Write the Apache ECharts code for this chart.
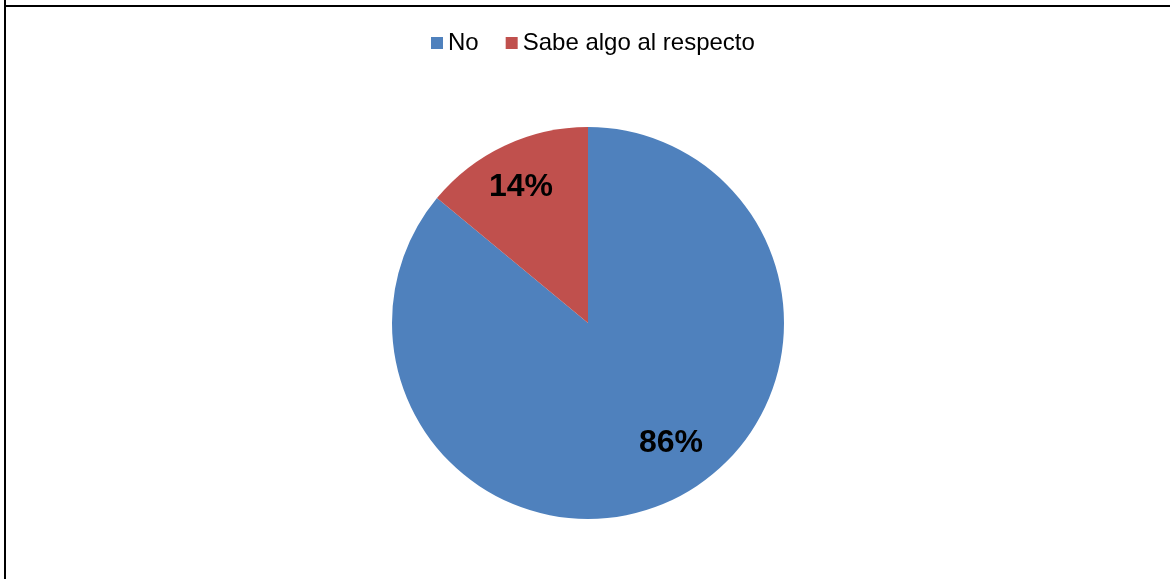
<!DOCTYPE html>
<html>
<head>
<meta charset="utf-8">
<script src="https://cdn.jsdelivr.net/npm/echarts@6/dist/echarts.min.js"></script>
<style>
html,body{margin:0;padding:0;background:#fff;}
#c{width:1170px;height:579px;}
</style>
</head>
<body>
<div id="c"></div>
<script>
const categories = ['No', 'Sabe algo al respecto'];
const values = [86, 14];
const colors = ['#4F81BD', '#C0504D'];
const labelOffsets = [[40, 29], [-24, -44]];

const chart = echarts.init(document.getElementById('c'), null, {renderer: 'canvas'});
chart.setOption({
  animation: false,
  backgroundColor: '#fff',
  graphic: [
    {type: 'line', shape: {x1: 5, y1: 0, x2: 5, y2: 600}, style: {stroke: '#000', lineWidth: 2}},
    {type: 'line', shape: {x1: 4, y1: 6, x2: 1200, y2: 6}, style: {stroke: '#000', lineWidth: 2}}
  ],
  legend: {
    data: categories,
    top: 31,
    left: 431,
    padding: 0,
    itemWidth: 12,
    itemHeight: 12,
    itemGap: 27,
    icon: 'rect',
    textStyle: {fontFamily: 'Liberation Sans', fontSize: 24, color: '#000', lineHeight: 24}
  },
  series: [{
    type: 'pie',
    center: [588, 323],
    radius: [0, 196],
    startAngle: 90,
    clockwise: true,
    silent: true,
    label: {
      show: true,
      position: 'inside',
      formatter: '{d}%',
      fontFamily: 'Liberation Sans',
      fontWeight: 'bold',
      fontSize: 32,
      color: '#000'
    },
    labelLine: {show: false},
    itemStyle: {borderWidth: 0},
    data: categories.map((c, i) => ({
      name: c,
      value: values[i],
      itemStyle: {color: colors[i]},
      label: {offset: labelOffsets[i]}
    }))
  }]
});
</script>
</body>
</html>
